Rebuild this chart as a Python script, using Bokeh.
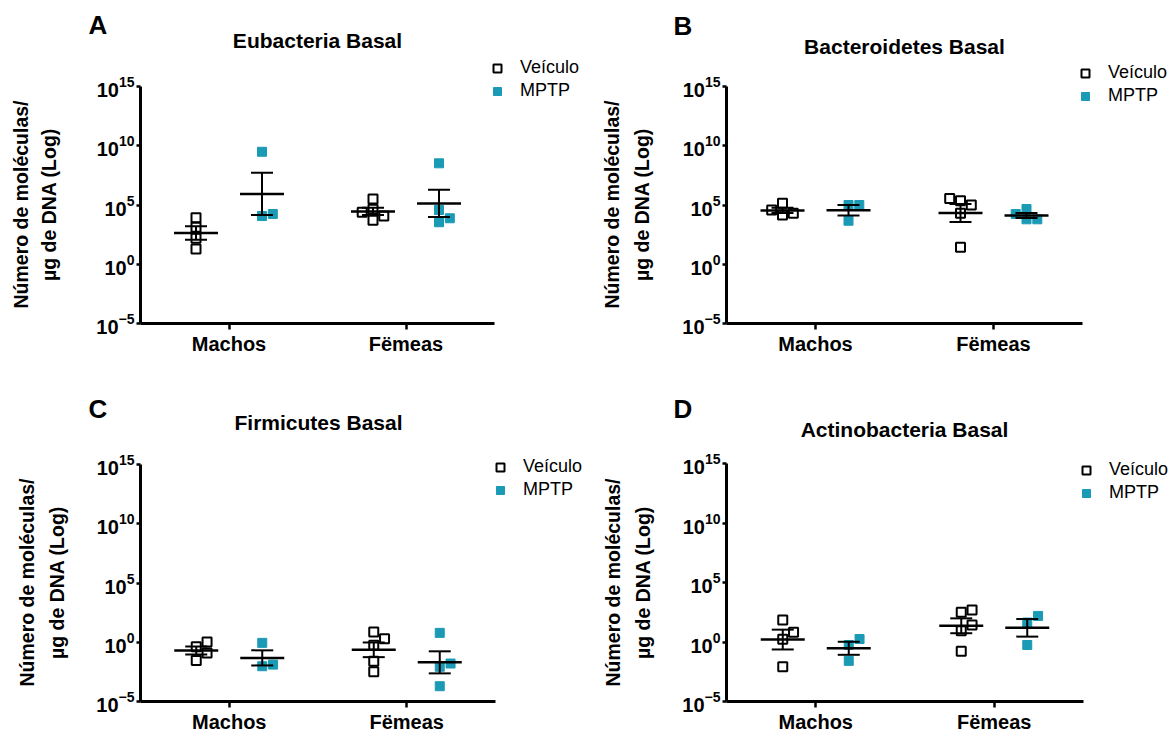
import numpy as np
from bokeh.plotting import figure
from bokeh.models import Range1d, FixedTicker, Label, Legend, LegendItem, ColumnDataSource, LogTickFormatter
from bokeh.layouts import gridplot
from bokeh.embed import file_html
from bokeh.resources import INLINE

# ---------------- data ----------------
categories = ["Machos", "Fëmeas"]
series_names = ["Veículo", "MPTP"]
panel_letters = ["A", "B", "C", "D"]
panel_titles = ["Eubacteria Basal", "Bacteroidetes Basal", "Firmicutes Basal", "Actinobacteria Basal"]
y_axis_title = ["Número de moléculas/", "µg de DNA (Log)"]
y_tick_values = [1e-5, 1e0, 1e5, 1e10, 1e15]

# Eubacteria (molecules / µg DNA)
eub_machos_veiculo = [8.5e3, 1.3e3, 1.55e2, 19.5]
eub_machos_mptp = [3.1e9, 1.17e4, 1.74e4]
eub_femeas_veiculo = [3.2e5, 2.4e4, 5.1e3, 1.17e4, 4.4e4]
eub_femeas_mptp = [3.3e8, 3.8e4, 7.6e3, 3.5e3]

# Bacteroidetes
bac_machos_veiculo = [3.7e4, 1.4e4, 2.0e4, 1.4e5]
bac_machos_mptp = [1.0e5, 1.0e5, 4.7e3]
bac_femeas_veiculo = [2.3e5, 1.0e5, 3.6e5, 2.0e4, 27]
bac_femeas_mptp = [1.74e4, 6.2e3, 6.2e3, 4.6e4]

# Firmicutes
fir_machos_veiculo = [1.07, 0.41, 0.126, 0.029]
fir_machos_mptp = [0.89, 0.0095, 0.013]
fir_femeas_veiculo = [7.4, 1.95, 0.56, 0.025, 0.0032]
fir_femeas_mptp = [6.2, 0.016, 0.0085, 1.95e-4]

# Actinobacteria
act_machos_veiculo = [71, 6.6, 1.7, 0.0083]
act_machos_mptp = [1.78, 0.56, 0.026]
act_femeas_veiculo = [316, 500, 27, 8.9, 0.17]
act_femeas_mptp = [155, 43, 0.56]

panel_data = [
    [(eub_machos_veiculo, eub_machos_mptp), (eub_femeas_veiculo, eub_femeas_mptp)],
    [(bac_machos_veiculo, bac_machos_mptp), (bac_femeas_veiculo, bac_femeas_mptp)],
    [(fir_machos_veiculo, fir_machos_mptp), (fir_femeas_veiculo, fir_femeas_mptp)],
    [(act_machos_veiculo, act_machos_mptp), (act_femeas_veiculo, act_femeas_mptp)],
]

# ---------------- style / layout ----------------
FONT = "Liberation Sans"
TEAL = "#1b9ab5"
MS = 9  # marker size px

# canvas origin/size in page px, and axis box (L, R, T, B) in page px
geoms = [
    dict(ox=0, oy=0, W=591, H=370, L=140, R=494, T=86, B=323),
    dict(ox=591, oy=0, W=581, H=370, L=726, R=1082, T=86, B=323),
    dict(ox=0, oy=370, W=591, H=361, L=140, R=495, T=464, B=701),
    dict(ox=591, oy=370, W=581, H=361, L=726, R=1083, T=463, B=701),
]
# annotation positions in page pixels
texts = [
    dict(letter=(88, 24), title=(317, 40), yl1=(20, 204), yl2=(48, 204), leg=(487, 59)),
    dict(letter=(673, 25), title=(904, 46), yl1=(611, 204), yl2=(641, 204), leg=(1075, 64)),
    dict(letter=(88, 408), title=(318, 422), yl1=(26, 582), yl2=(56, 582), leg=(490, 458)),
    dict(letter=(673, 408), title=(904, 429), yl1=(612, 582), yl2=(642, 582), leg=(1076, 461)),
]


def swarm(logs, ppd, size):
    ys = [v * ppd for v in logs]
    order = sorted(range(len(ys)), key=lambda i: ys[i])
    placed = []
    offs = [0.0] * len(ys)
    step = size * 0.6
    for i in order:
        k = 0
        while True:
            cands = [0.0] if k == 0 else [k * step, -k * step]
            ok = None
            for dx in cands:
                if all(not (abs(dx - px) < size and abs(ys[i] - py) < size) for px, py in placed):
                    ok = dx
                    break
            if ok is not None:
                offs[i] = ok
                placed.append((ok, ys[i]))
                break
            k += 1
    return offs


figs = []
for k in range(4):
    g = geoms[k]
    t = texts[k]
    ppu = (g["R"] - g["L"]) / 2.0      # px per x unit
    ppd = (g["B"] - g["T"]) / 20.0     # px per decade
    x_start = 0.5 + (g["ox"] - g["L"]) / ppu
    x_end = 0.5 + (g["ox"] + g["W"] - g["L"]) / ppu
    e_start = -5 - (g["oy"] + g["H"] - g["B"]) / ppd
    e_end = 15 + (g["T"] - g["oy"]) / ppd

    p = figure(width=g["W"], height=g["H"], x_range=Range1d(x_start, x_end),
               y_range=Range1d(10 ** e_start, 10 ** e_end), y_axis_type="log",
               output_backend="svg", toolbar_location=None, min_border=0)
    p.outline_line_color = None
    p.grid.visible = False
    p.background_fill_color = "white"
    p.border_fill_color = "white"

    # axes (library axes, pinned at the data origin)
    p.xaxis.ticker = FixedTicker(ticks=[1, 2])
    p.xaxis.major_label_overrides = {1: categories[0], 2: categories[1]}
    p.xaxis.fixed_location = 1e-5
    p.xaxis.bounds = (0.5, 2.5)
    p.yaxis.ticker = FixedTicker(ticks=y_tick_values)
    p.yaxis.formatter = LogTickFormatter()
    p.yaxis.fixed_location = 0.5
    p.yaxis.bounds = (1e-5, 1e15)
    for ax in (p.xaxis, p.yaxis):
        ax.axis_line_width = 3
        ax.axis_line_color = "black"
        ax.major_tick_line_width = 2.5
        ax.major_tick_line_color = "black"
        ax.major_tick_in = 0
        ax.minor_tick_line_color = None
        ax.major_label_text_font = FONT
        ax.major_label_text_font_style = "bold"
        ax.major_label_text_color = "black"
    p.xaxis.major_tick_out = 6
    p.yaxis.major_tick_out = 4
    p.xaxis.major_label_text_font_size = "20px"
    p.yaxis.major_label_text_font_size = "20px"
    p.xaxis.major_label_standoff = 3
    p.yaxis.major_label_standoff = 2

    vx, vy, mx, my = [], [], [], []
    seg = dict(x0=[], y0=[], x1=[], y1=[])
    mean_seg = dict(x0=[], y0=[], x1=[], y1=[])
    for ci, (veh, mptp) in enumerate(panel_data[k]):
        center = ci + 1
        for si, vals in enumerate((veh, mptp)):
            gx = center + (-33 if si == 0 else 33) / ppu
            logs = np.log10(vals)
            offs = swarm(list(logs), ppd, MS)
            xs = [gx + o / ppu for o in offs]
            if si == 0:
                vx += xs; vy += list(vals)
            else:
                mx += xs; my += list(vals)
            m = logs.mean()
            s = logs.std(ddof=1) / np.sqrt(len(logs))
            hw = 22 / ppu
            cw = 11 / ppu
            mean_seg["x0"].append(gx - hw); mean_seg["x1"].append(gx + hw)
            mean_seg["y0"].append(10 ** m); mean_seg["y1"].append(10 ** m)
            seg["x0"] += [gx, gx - cw, gx - cw]
            seg["x1"] += [gx, gx + cw, gx + cw]
            seg["y0"] += [10 ** (m - s), 10 ** (m + s), 10 ** (m - s)]
            seg["y1"] += [10 ** (m + s), 10 ** (m + s), 10 ** (m - s)]

    r_v = p.scatter(x=vx, y=vy, marker="square", size=MS, fill_color="white",
                    line_color="black", line_width=2)
    r_m = p.scatter(x=mx, y=my, marker="square", size=MS, fill_color=TEAL,
                    line_color=TEAL, line_width=1)
    p.segment(x0="x0", y0="y0", x1="x1", y1="y1", source=ColumnDataSource(seg),
              line_color="black", line_width=2)
    p.segment(x0="x0", y0="y0", x1="x1", y1="y1", source=ColumnDataSource(mean_seg),
              line_color="black", line_width=2.5)

    # page coords -> screen units relative to frame (= whole canvas), bottom-up
    def sx(X):
        return X - g["ox"]

    def sy(Y):
        return (g["oy"] + g["H"]) - Y

    p.add_layout(Label(x=sx(t["letter"][0]), y=sy(t["letter"][1]), x_units="screen", y_units="screen",
                       text=panel_letters[k], text_font=FONT, text_font_style="bold",
                       text_color="black",
                       text_font_size="26px", text_align="left", text_baseline="middle"))
    p.add_layout(Label(x=sx(t["title"][0]), y=sy(t["title"][1]), x_units="screen", y_units="screen",
                       text=panel_titles[k], text_font=FONT, text_font_style="bold",
                       text_color="black",
                       text_font_size="21px", text_align="center", text_baseline="middle"))
    for key, txt in (("yl1", y_axis_title[0]), ("yl2", y_axis_title[1])):
        p.add_layout(Label(x=sx(t[key][0]), y=sy(t[key][1]), x_units="screen", y_units="screen",
                           text=txt, text_font=FONT, text_font_style="bold", angle=np.pi / 2,
                           text_color="black",
                           text_font_size="19.5px", text_align="center", text_baseline="middle"))

    lx, ly = t["leg"]
    legend = Legend(items=[LegendItem(label=series_names[0], renderers=[r_v]),
                           LegendItem(label=series_names[1], renderers=[r_m])],
                    location=(sx(lx), sy(ly + 42)), border_line_color=None,
                    background_fill_alpha=0, padding=0, margin=0, spacing=2,
                    glyph_width=20, glyph_height=20, label_standoff=13,
                    label_text_font=FONT, label_text_font_size="18px", label_height=20,
                    label_text_color="black")
    p.add_layout(legend, "center")
    figs.append(p)

grid = gridplot([[figs[0], figs[1]], [figs[2], figs[3]]], toolbar_location=None)
open("out.html", "w").write(file_html(grid, INLINE))
